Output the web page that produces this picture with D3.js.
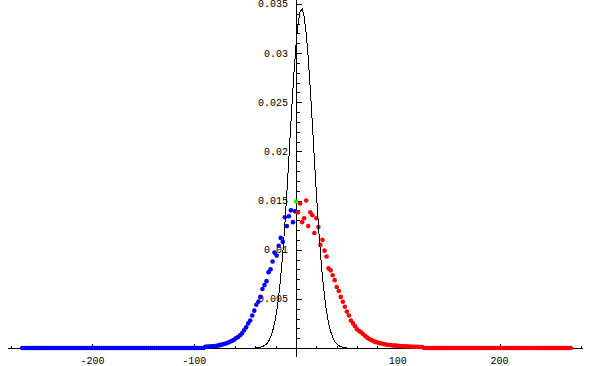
<!DOCTYPE html>
<html>
<head>
<meta charset="utf-8">
<script src="https://cdnjs.cloudflare.com/ajax/libs/d3/7.8.5/d3.min.js"></script>
<style>
  body { margin: 0; background: #fff; }
  .tick-label { font-family: "Liberation Mono", "DejaVu Sans Mono", monospace; font-size: 10px; fill: #000; }
</style>
</head>
<body>
<div id="chart"></div>
<script>
var width = 592;
var height = 366;

// blue points, x = -269 .. -1 (step 2)
var blueX = d3.range(-269, 0, 2);
var blueY = [
  0,0,0,0,0,0,0,0,0,0,0,0,0,0,0,
  0,0,0,0,0,0,0,0,0,0,0,0,0,0,0,
  0,0,0,0,0,0,0,0,0,0,0,0,0,0,0,
  0,0,0,0,0,0,0,0,0,0,0,0,0,0,0,
  0,0,0,0,0,0,0,0,0,0,0,0,0,0,0,
  0,0,0,0,0,0,0,0,0,0,0,0,0,0,0,
  0.00013,0.00014,0.00015,0.00016,0.00018,0.0002,0.00024,0.00029,0.00034,0.0004,
  0.00046,0.00054,0.00064,0.00072,0.00084,0.00098,0.00112,0.0013,0.0015,0.0018,
  0.0021,0.0025,0.0028,0.0033,0.0038,0.0044,0.0047,0.0052,0.0060,0.0064,
  0.0068,0.0077,0.0080,0.0088,0.0097,0.0094,0.0104,0.0112,0.0108,0.0133,
  0.0124,0.0134,0.0140,0.0128,0.0139
];

// red points, x = 2 .. 270 (step 2)
var redX = d3.range(2, 271, 2);
var redY = [
  0.0138,0.0147,0.0128,0.0132,0.0150,0.0124,0.0138,0.0135,0.0117,0.0132,
  0.0123,0.0105,0.0110,0.0099,0.0093,0.0081,0.0079,0.0074,0.0069,0.0062,
  0.0058,0.0052,0.0047,0.0042,0.0037,0.0033,0.0028,0.0025,0.0022,0.0019,
  0.00172,0.0016,0.0014,0.00122,0.00105,0.00092,0.00082,0.0007,0.00062,0.00056,
  0.0005,0.00045,0.0004,0.00036,0.00033,0.0003,0.00028,0.00026,0.00024,0.00022,
  0.0002,0.00018,0.00017,0.00016,0.00015,0.00014,0.00013,0.00012,0.00012,0.00011,
  0.0001,0.0001,
  0,0,0,0,0,0,0,0,0,0,0,0,0,0,0,0,0,0,0,0,0,0,0,0,
  0,0,0,0,0,0,0,0,0,0,0,0,0,0,0,0,0,0,0,0,0,0,0,0,
  0,0,0,0,0,0,0,0,0,0,0,0,0,0,0,0,0,0,0,0,0,0,0,0,0
];

// the single green point at 0
var greenX = [0];
var greenY = [0.0149];

// black density curve
var curveX = d3.range(-40, 52, 2);
var curveY = [
  0.00002,0.00003,0.00006,0.0001,0.00019,0.00032,0.00053,0.00086,0.00136,0.0021,
  0.0031,0.0044,0.0062,0.0084,0.0110,0.0141,0.0175,0.0211,0.0247,0.0280,
  0.0308,0.0330,0.0342,0.0345,0.0337,0.0320,0.0295,0.0264,0.0229,0.0193,
  0.0158,0.0125,0.0097,0.0072,0.0053,0.0037,0.0025,0.0017,0.0011,0.00068,
  0.00041,0.00024,0.00014,0.00008,0.00004,0.00002
];

var xMajor = [-200, -100, 100, 200];
var yMajor = [0.005, 0.01, 0.015, 0.02, 0.025, 0.03, 0.035];

var x = d3.scaleLinear().domain([-283, 282]).range([8, 583]);
var y = d3.scaleLinear().domain([-0.000916, 0.0354]).range([357, 0]);

var svg = d3.select("#chart")
  .append("svg")
  .attr("width", width)
  .attr("height", height)
  .style("display", "block");

var x0 = Math.round(x(0)) + 0.5;
var y0 = Math.round(y(0)) + 0.5;

// axes lines
svg.append("line")
  .attr("x1", 8).attr("x2", 583)
  .attr("y1", y0).attr("y2", y0)
  .attr("stroke", "#000").attr("shape-rendering", "crispEdges");
svg.append("line")
  .attr("x1", x0).attr("x2", x0)
  .attr("y1", 0).attr("y2", 357)
  .attr("stroke", "#000").attr("shape-rendering", "crispEdges");

// x ticks (minor every 20, major every 100)
var xTicks = d3.range(-280, 281, 20).filter(d => d !== 0);
svg.selectAll(".xtick")
  .data(xTicks)
  .enter()
  .append("line")
  .attr("class", "xtick")
  .attr("x1", d => Math.round(x(d)) + 0.5)
  .attr("x2", d => Math.round(x(d)) + 0.5)
  .attr("y1", y0)
  .attr("y2", d => y0 - (d % 100 === 0 ? 5 : 3))
  .attr("stroke", "#000").attr("shape-rendering", "crispEdges");

svg.selectAll(".xlabel")
  .data(xMajor)
  .enter()
  .append("text")
  .attr("class", "tick-label")
  .attr("x", d => x(d))
  .attr("y", 364)
  .attr("text-anchor", "middle")
  .text(d => d);

// y ticks (minor every 0.001)
var yTicks = d3.range(1, 36).map(d => d / 1000);
svg.selectAll(".ytick")
  .data(yTicks)
  .enter()
  .append("line")
  .attr("class", "ytick")
  .attr("x1", x0)
  .attr("x2", (d, i) => x0 + ((i + 1) % 5 === 0 ? 5 : 3))
  .attr("y1", d => Math.round(y(d)) + 0.5)
  .attr("y2", d => Math.round(y(d)) + 0.5)
  .attr("stroke", "#000").attr("shape-rendering", "crispEdges");

svg.selectAll(".ylabel")
  .data(yMajor)
  .enter()
  .append("text")
  .attr("class", "tick-label")
  .attr("x", 288)
  .attr("y", d => y(d))
  .attr("dy", "0.35em")
  .attr("text-anchor", "end")
  .text(d => d3.format("")(d));

// points
function drawPoints(xs, ys, color) {
  svg.append("g")
    .selectAll("circle")
    .data(xs.map((d, i) => [d, ys[i]]))
    .enter()
    .append("circle")
    .attr("cx", d => x(d[0]))
    .attr("cy", d => y(d[1]))
    .attr("r", 2.3)
    .attr("fill", color);
}
drawPoints(blueX, blueY, "#0000ff");
drawPoints(redX, redY, "#ff0000");
drawPoints(greenX, greenY, "#00ff00");

// black curve on top
var line = d3.line()
  .x(d => x(d[0]))
  .y(d => y(d[1]));

svg.append("path")
  .datum(curveX.map((d, i) => [d, curveY[i]]))
  .attr("d", line)
  .attr("fill", "none")
  .attr("stroke", "#000")
  .attr("stroke-width", 1)
  .attr("shape-rendering", "crispEdges");
</script>
</body>
</html>
